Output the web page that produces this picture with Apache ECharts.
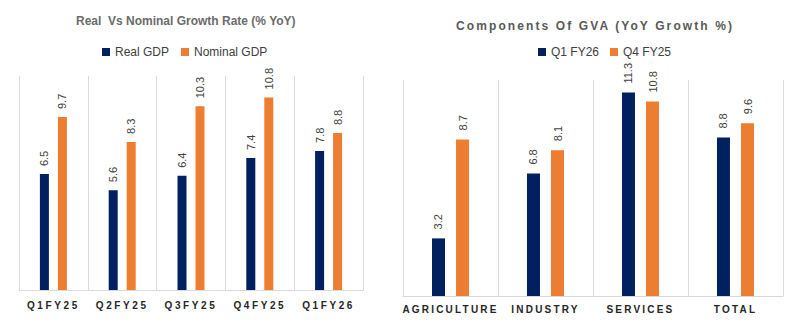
<!DOCTYPE html>
<html>
<head>
<meta charset="utf-8">
<script src="https://cdn.jsdelivr.net/npm/echarts@6/dist/echarts.min.js"></script>
<style>
html,body{margin:0;padding:0;background:#fff;}
#c{width:802px;height:326px;}
</style>
</head>
<body>
<div id="c"></div>
<script>
const leftCategories = ['Q1FY25', 'Q2FY25', 'Q3FY25', 'Q4FY25', 'Q1FY26'];
const realGDP = [6.5, 5.6, 6.4, 7.4, 7.8];
const nominalGDP = [9.7, 8.3, 10.3, 10.8, 8.8];

const rightCategories = ['AGRICULTURE', 'INDUSTRY', 'SERVICES', 'TOTAL'];
const q1FY26 = [3.2, 6.8, 11.3, 8.8];
const q4FY25 = [8.7, 8.1, 10.8, 9.6];

const leftTitle = 'Real  Vs Nominal Growth Rate (% YoY)';
const rightTitle = 'Components Of GVA (YoY Growth %)';

const NAVY = '#002060';
const ORANGE = '#ED7D31';
const GRID = '#d9d9d9';
const FONT = 'Liberation Sans, Arial, sans-serif';

const chart = echarts.init(document.getElementById('c'), null, {renderer: 'svg'});

function xAxisFor(idx, cats, margin) {
  return {
    type: 'category', gridIndex: idx, data: cats,
    axisLine: {show: true, lineStyle: {color: GRID, width: 1}},
    axisTick: {show: false},
    splitLine: {show: true, interval: 0, lineStyle: {color: GRID, width: 1}},
    axisLabel: {interval: 0, margin: margin, color: '#262626', fontSize: 10, fontWeight: 'bold', fontFamily: FONT}
  };
}
function yAxisFor(idx) {
  return {type: 'value', gridIndex: idx, min: 0, max: 12, show: false, splitLine: {show: false}};
}
function barLabel(dist) {
  return {show: true, position: 'top', rotate: 90, align: 'left', verticalAlign: 'middle', distance: dist,
    color: '#404040', fontSize: 11, fontFamily: FONT, formatter: p => p.value.toFixed(1)};
}

chart.setOption({
  animation: false,
  backgroundColor: '#fff',
  title: [
    {text: leftTitle, left: 71, top: 10, textStyle: {fontSize: 12, fontWeight: 'bold', color: '#6b6b6b', fontFamily: FONT}},
    {text: rightTitle, left: 451, top: 15, textStyle: {fontSize: 12, fontWeight: 'bold', color: '#595959', fontFamily: FONT}}
  ],
  legend: [
    {data: ['Real GDP', 'Nominal GDP'], left: 97, top: 41, itemWidth: 8, itemHeight: 8, itemGap: 12,
      icon: 'rect', textStyle: {fontSize: 12, color: '#404040', fontFamily: FONT}},
    {data: ['Q1 FY26', 'Q4 FY25'], left: 533, top: 41, itemWidth: 8, itemHeight: 8, itemGap: 11,
      icon: 'rect', textStyle: {fontSize: 12, color: '#404040', fontFamily: FONT}}
  ],
  grid: [
    {left: 19, right: 439, top: 76, bottom: 36},
    {left: 403, right: 19, top: 80, bottom: 30}
  ],
  xAxis: [xAxisFor(0, leftCategories, 10), xAxisFor(1, rightCategories, 8)],
  yAxis: [yAxisFor(0), yAxisFor(1)],
  series: [
    {name: 'Real GDP', type: 'bar', xAxisIndex: 0, yAxisIndex: 0, data: realGDP, barWidth: 9, barGap: '100%',
      itemStyle: {color: NAVY}, label: barLabel(8)},
    {name: 'Nominal GDP', type: 'bar', xAxisIndex: 0, yAxisIndex: 0, data: nominalGDP, barWidth: 9, barGap: '100%',
      itemStyle: {color: ORANGE}, label: barLabel(8)},
    {name: 'Q1 FY26', type: 'bar', xAxisIndex: 1, yAxisIndex: 1, data: q1FY26, barWidth: 13, barGap: '85%',
      itemStyle: {color: NAVY}, label: barLabel(9)},
    {name: 'Q4 FY25', type: 'bar', xAxisIndex: 1, yAxisIndex: 1, data: q4FY25, barWidth: 13, barGap: '85%',
      itemStyle: {color: ORANGE}, label: barLabel(9)}
  ]
});

// letter-spacing for category labels and the right title (as in the reference)
function applySpacing() {
  const texts = document.querySelectorAll('#c svg text');
  texts.forEach(t => {
    const s = t.textContent;
    if (leftCategories.includes(s)) t.style.letterSpacing = '2.6px';
    else if (rightCategories.includes(s)) t.style.letterSpacing = '2.2px';
    else if (s === rightTitle) t.style.letterSpacing = '2.1px';
  });
}
applySpacing();
chart.on('finished', applySpacing);
</script>
</body>
</html>
